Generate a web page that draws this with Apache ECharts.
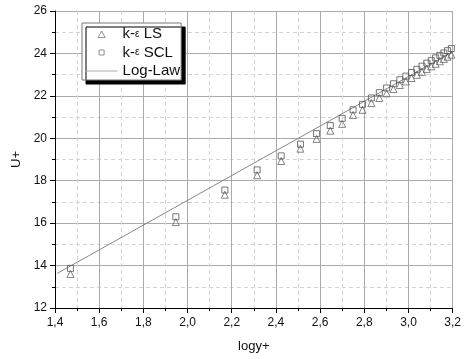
<!DOCTYPE html>
<html><head><meta charset="utf-8">
<script src="https://cdn.jsdelivr.net/npm/echarts@6/dist/echarts.min.js"></script>
<style>html,body{margin:0;padding:0;background:#fff}#c{width:464px;height:359px}</style>
</head><body><div id="c"></div>
<script>
var logY = [1.470,1.947,2.169,2.315,2.424,2.511,2.584,2.646,2.700,2.749,2.792,2.832,2.868,2.901,2.932,2.961,2.988,3.014,3.038,3.061,3.083,3.103,3.123,3.142,3.160,3.177,3.194];
var uLS  = [13.60,16.05,17.34,18.26,18.93,19.51,19.97,20.36,20.68,21.10,21.34,21.66,21.90,22.12,22.32,22.51,22.68,22.84,22.99,23.13,23.27,23.39,23.51,23.63,23.74,23.84,23.94];
var uSCL = [13.87,16.30,17.56,18.51,19.17,19.72,20.22,20.60,20.94,21.34,21.60,21.90,22.15,22.37,22.57,22.76,22.93,23.10,23.25,23.40,23.54,23.66,23.79,23.91,24.02,24.13,24.23];
var logLawX = [1.41, 3.2];
var logLawU = [13.63, 24.08];
var seriesNames = ['k-ε LS', 'k-ε SCL', 'Log-Law'];
var xTicks = {min:1.4, max:3.2, step:0.2};
var yTicks = {min:12, max:26, step:2};

function pairs(xs, ys){ return xs.map(function(x,i){ return [x, ys[i]]; }); }
var F = 'Liberation Sans, Arial, sans-serif';
// legend icons: invisible move-to points keep the 32x7 box so the marker is not stretched
var iconTri  = 'path://M0,0M32,7M12.5,7L16,0.5L19.5,7Z';
var iconRect = 'path://M0,0M32,7M13.5,1L18.5,1L18.5,6L13.5,6Z';
var iconLine = 'path://M0,0M32,7M0,3.5L32,3.5';
var chart = echarts.init(document.getElementById('c'), null, {renderer:'canvas'});
chart.setOption({
  backgroundColor:'#fff',
  animation:false,
  grid:{left:55, right:6, top:11, bottom:51},
  xAxis:{
    type:'value', min:xTicks.min, max:xTicks.max, interval:xTicks.step,
    name:'logy+', nameLocation:'middle', nameGap:32,
    nameTextStyle:{fontFamily:F, fontSize:13, color:'#111'},
    axisLine:{show:true, onZero:false, lineStyle:{color:'#000', width:1}},
    axisTick:{show:true, inside:false, length:5, lineStyle:{color:'#000'}},
    minorTick:{show:true, splitNumber:2, length:3, lineStyle:{color:'#000'}},
    axisLabel:{fontFamily:F, fontSize:12, color:'#111', margin:9,
      formatter:function(v){ return v.toFixed(1).replace('.', ','); }},
    splitLine:{show:true, lineStyle:{color:'#aaa', width:1}},
    minorSplitLine:{show:true, lineStyle:{color:'#d4d4d4', width:1, type:[4,3]}}
  },
  yAxis:{
    type:'value', min:yTicks.min, max:yTicks.max, interval:yTicks.step,
    name:'U+', nameLocation:'middle', nameGap:31, nameRotate:90,
    nameTextStyle:{fontFamily:F, fontSize:13, color:'#111'},
    axisLine:{show:true, onZero:false, lineStyle:{color:'#000', width:1}},
    axisTick:{show:true, inside:false, length:5, lineStyle:{color:'#000'}},
    minorTick:{show:true, splitNumber:2, length:3, lineStyle:{color:'#000'}},
    axisLabel:{fontFamily:F, fontSize:12, color:'#111', margin:8},
    splitLine:{show:true, lineStyle:{color:'#aaa', width:1}},
    minorSplitLine:{show:true, lineStyle:{color:'#d4d4d4', width:1, type:[4,3]}}
  },
  legend:{
    orient:'vertical', left:82, top:23,
    itemWidth:32, itemHeight:7, itemGap:2.5,
    padding:[3,1,1,3],
    backgroundColor:'#fff', borderColor:'#777', borderWidth:1,
    shadowColor:'#000', shadowBlur:0, shadowOffsetX:4, shadowOffsetY:4,
    textStyle:{fontFamily:F, fontSize:15, color:'#111', lineHeight:16,
      rich:{e:{fontFamily:F, fontSize:10, color:'#111'}}},
    formatter:function(n){
      return n.replace('ε', '{e|ε}');
    },
    data:[
      {name:seriesNames[0], icon:iconTri, itemStyle:{color:'rgba(0,0,0,0)', borderColor:'#777', borderWidth:1}},
      {name:seriesNames[1], icon:iconRect, itemStyle:{color:'rgba(0,0,0,0)', borderColor:'#777', borderWidth:1}},
      {name:seriesNames[2], icon:iconLine, itemStyle:{color:'rgba(0,0,0,0)', borderColor:'#aaa', borderWidth:1.2}}
    ]
  },
  series:[
    {name:seriesNames[0], type:'scatter', symbol:'triangle', symbolSize:7,
     itemStyle:{color:'rgba(0,0,0,0)', borderColor:'#666', borderWidth:1},
     data:pairs(logY, uLS)},
    {name:seriesNames[1], type:'scatter', symbol:'rect', symbolSize:6,
     itemStyle:{color:'rgba(0,0,0,0)', borderColor:'#555', borderWidth:1},
     data:pairs(logY, uSCL)},
    {name:seriesNames[2], type:'line', showSymbol:false, symbol:'none',
     lineStyle:{color:'#888', width:1}, itemStyle:{color:'#888'},
     data:pairs(logLawX, logLawU), z:1}
  ]
});
</script></body></html>
